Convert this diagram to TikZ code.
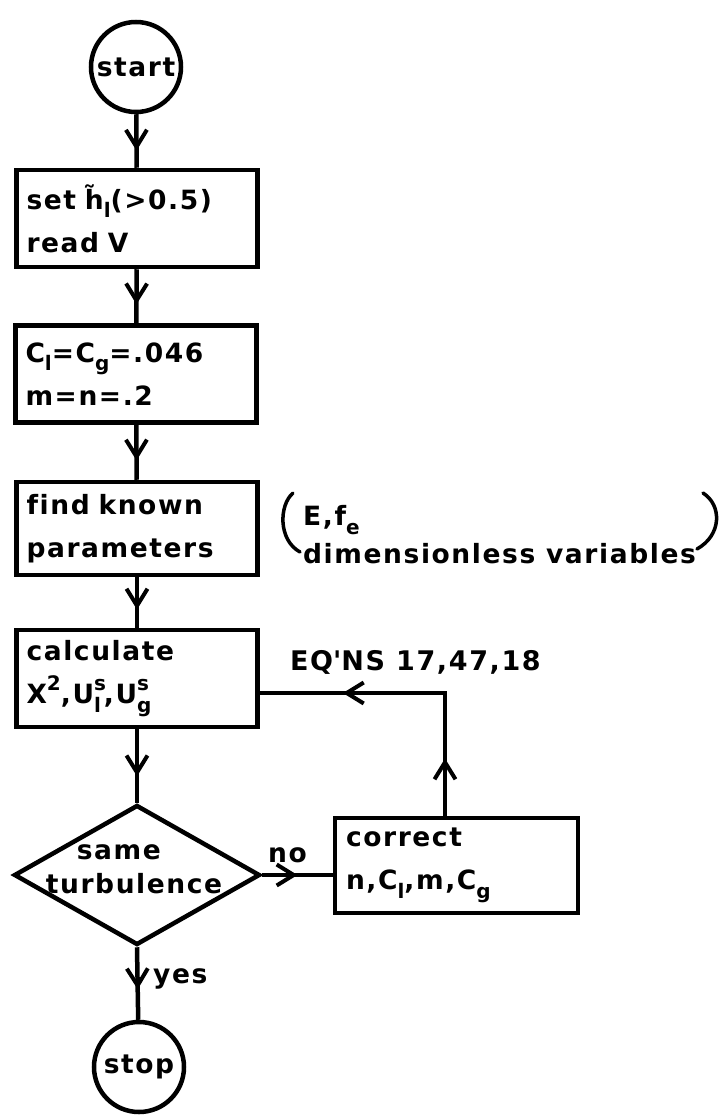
\documentclass[tikz,border=0pt]{standalone}
\usepackage{fontspec}
\setmainfont[LetterSpace=6, Ligatures=NoCommon, UprightFont=* Bold]{DejaVu Sans}
\usetikzlibrary{shapes.geometric,arrows.meta,decorations.markings}

% lowered / raised indices for the stencil-style labels
\newcommand{\lo}[1]{\raisebox{-0.32em}{\fontsize{20}{20}\selectfont #1}}
\newcommand{\hi}[1]{\raisebox{0.5em}{\fontsize{20}{20}\selectfont #1}}

\tikzset{
  x=1pt, y=-1pt,
  chevron/.tip={Straight Barb[length=17pt,width=21pt,line width=4pt]},
  txt/.style={font=\fontsize{26.5}{43}\selectfont, inner sep=0pt},
  stepbox/.style={txt, draw, line width=4.5pt, minimum width=241pt,
    minimum height=97pt, text width=221pt, align=left, inner xsep=10pt},
  terminal/.style={txt, draw, circle, line width=4.5pt, minimum size=90pt},
  decision/.style={draw, diamond, line width=4.5pt, minimum width=246pt,
    minimum height=140pt, inner sep=0pt},
  link/.style={line width=4.5pt},
  mid/.style={postaction={decorate, decoration={markings,
    mark=at position #1 with {\arrow{chevron}}}}},
  paren/.style={line width=3.5pt, line cap=round},
}

\begin{document}
\begin{tikzpicture}
\useasboundingbox (0,0) rectangle (725,1118);

% main column
\node[terminal] (start) at (136,67) {start};
\node[stepbox] (init) at (137,218.5) {set h\char"0303\lo{l}(>0.5)\\read V};
\node[stepbox] (coef) at (136,374) {C\lo{l}=C\lo{g}=.046\\m=n=.2};
\node[stepbox, minimum height=93pt] (known) at (137,528.5) {find known\\parameters};
\node[stepbox] (calc) at (137,678.5)
  {calculate\\X\hi{2},U\rlap{\hi{s}}\lo{l}\hspace{3pt},U\rlap{\hi{s}}\lo{g}};
\node[decision] (test) at (137,875) {};
\node[txt, align=left, font=\fontsize{26.5}{34}\selectfont] (testtext) at (134,869)
  {\hspace*{31pt}same\\turbulence};
\node[terminal] (stop) at (139,1067) {stop};

% correction branch
\node[stepbox, minimum width=243pt, minimum height=95pt] (corr) at (456.5,865.5)
  {correct\\n,C\lo{l},m,C\lo{g}};
\coordinate (bend) at (445,693);

% side notes
\node[txt, anchor=west, align=left, font=\fontsize{26.5}{38}\selectfont] (note) at (303,535)
  {E,f\lo{e}\\dimensionless variables};
\node[txt, anchor=base west, font=\fontsize{27}{30}\selectfont] (eqns) at (290,670)
  {EQ\textquotesingle NS 17,47,18};
\node[txt, anchor=base west] (nolab) at (268,862) {no};
\node[txt, anchor=base west] (yeslab) at (153,983) {yes};

\draw[paren] (293,493) .. controls (279,505) and (278,540) .. (300,552);
\draw[paren] (703,493) .. controls (722,505) and (722,535) .. (697,549);

% connectors
\draw[link, mid=0.68] (start) -- (init);
\draw[link, mid=0.65] (init) -- (coef);
\draw[link, mid=0.65] (coef) -- (known);
\draw[link, mid=0.64] (known) -- (calc);
\draw[link, mid=0.64] (calc) -- (test.north);
\draw[link, mid=0.5] (test.east) -- (test.east -| corr.west);
\draw[link, mid=0.186, mid=0.73] (corr.north -| bend) -- (bend) -- (bend -| calc.east);
\draw[link, mid=0.58] (test.south) -- (stop);
\end{tikzpicture}
\end{document}
